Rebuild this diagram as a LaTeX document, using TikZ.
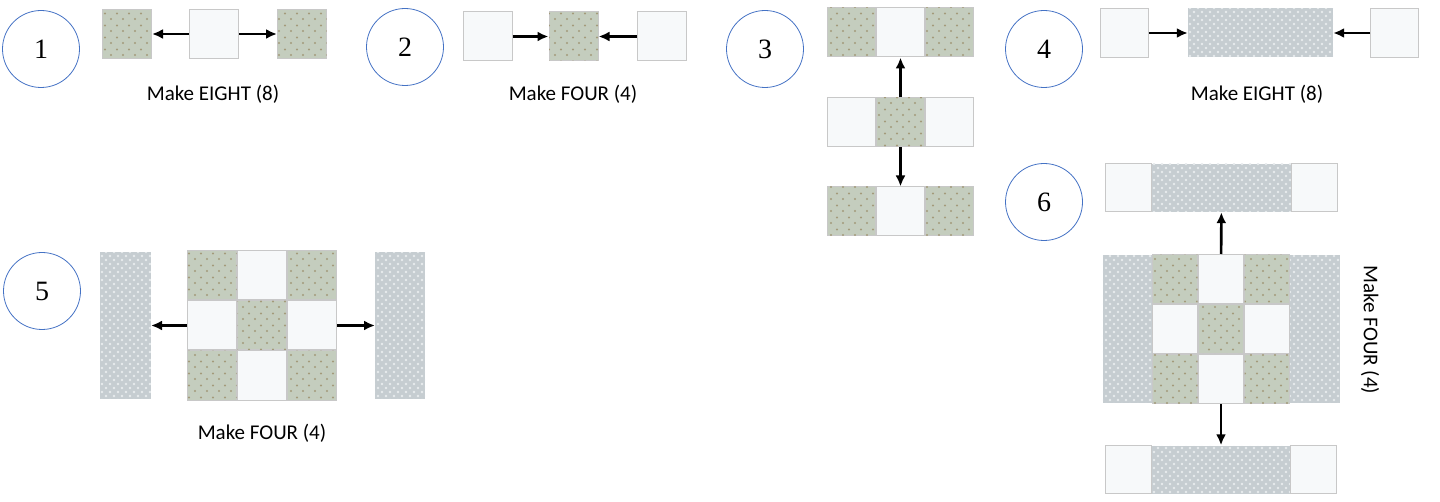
\documentclass[tikz,border=0pt]{standalone}
\usepackage{fontspec}
\setmainfont{Liberation Serif}
\newfontfamily\numfont{Liberation Serif}
\newfontfamily\labelfont{Carlito}
\usetikzlibrary{positioning, arrows.meta, patterns}

\definecolor{fabgreen}{HTML}{C4CDBE}
\definecolor{fabgray}{HTML}{C6CDD1}
\definecolor{fabwhite}{HTML}{F7F9FA}
\definecolor{seam}{HTML}{C8C8C8}
\definecolor{ringblue}{HTML}{4472C4}
\definecolor{speck}{HTML}{A39A7A}

% a sparse print for the fabric patches
\pgfdeclarepatternformonly{speckle}{\pgfqpoint{-2pt}{-2pt}}{\pgfqpoint{14pt}{14pt}}{\pgfqpoint{12pt}{12pt}}{
  \pgfpathcircle{\pgfqpoint{3pt}{3pt}}{1.1pt}
  \pgfpathcircle{\pgfqpoint{9pt}{8.5pt}}{1.1pt}
  \pgfusepath{fill}}
\pgfdeclarepatternformonly{mottle}{\pgfqpoint{-2pt}{-2pt}}{\pgfqpoint{10pt}{10pt}}{\pgfqpoint{8pt}{8pt}}{
  \pgfpathcircle{\pgfqpoint{2pt}{2pt}}{1.3pt}
  \pgfpathcircle{\pgfqpoint{6pt}{6pt}}{1.3pt}
  \pgfusepath{fill}}

\begin{document}
\begin{tikzpicture}[x=1pt, y=-1pt, node distance=0pt, inner sep=0pt,
    gpatch/.style={draw=seam, line width=1pt, fill=fabgreen, postaction={pattern=speckle, pattern color=speck},
      minimum width=49pt, minimum height=49pt},
    wpatch/.style={draw=seam, line width=1pt, fill=fabwhite, minimum width=49pt, minimum height=49pt},
    strip/.style={fill=fabgray, postaction={pattern=mottle, pattern color=white!60!fabgray}, minimum height=49pt},
    num/.style={circle, draw=ringblue, line width=0.8pt, minimum size=77pt, font=\numfont\fontsize{28}{32}\selectfont},
    caption/.style={font=\labelfont\fontsize{21}{25}\selectfont},
    arr/.style={-{Latex[length=11pt,width=10pt]}, line width=2.6pt}]
  \useasboundingbox (0,0) rectangle (1440,502);

  % step 1
  \node[num] (n1) at (41,49) {1};
  \node[wpatch] (p1w) at (214,34) {};
  \node[gpatch, left=37pt of p1w] (p1l) {};
  \node[gpatch, right=38pt of p1w] (p1r) {};
  \draw[arr] (p1w) -- (p1l);
  \draw[arr] (p1w) -- (p1r);
  \node[caption] (t1) at (213,94) {Make EIGHT (8)};

  % step 2
  \node[num] (n2) at (405,47) {2};
  \node[gpatch] (p2g) at (573.5,36.5) {};
  \node[wpatch, left=36pt of p2g] (p2l) {};
  \node[wpatch, right=38pt of p2g] (p2r) {};
  \draw[arr] (p2l) -- (p2g);
  \draw[arr] (p2r) -- (p2g);
  \node[caption] (t2) at (573,94) {Make FOUR (4)};

  % step 3
  \node[num] (n3) at (765,49) {3};
  \node[wpatch, minimum width=48pt] (r3a) at (900.5,32.5) {};
  \node[gpatch, minimum width=48pt, left=0pt of r3a] (r3al) {};
  \node[gpatch, minimum width=48pt, right=0pt of r3a] (r3ar) {};
  \node[gpatch, minimum width=48pt] (r3b) at (900.5,122.5) {};
  \node[wpatch, minimum width=48pt, left=0pt of r3b] (r3bl) {};
  \node[wpatch, minimum width=48pt, right=0pt of r3b] (r3br) {};
  \node[wpatch, minimum width=48pt] (r3c) at (900.5,211.5) {};
  \node[gpatch, minimum width=48pt, left=0pt of r3c] (r3cl) {};
  \node[gpatch, minimum width=48pt, right=0pt of r3c] (r3cr) {};
  \draw[arr] (r3b) -- (r3a);
  \draw[arr] (r3b) -- (r3c);

  % step 4
  \node[num] (n4) at (1044,49) {4};
  \node[strip, minimum width=145pt] (s4) at (1260.5,33) {};
  \node[wpatch, minimum width=48pt, left=39pt of s4] (p4l) {};
  \node[wpatch, minimum width=48pt, right=37pt of s4] (p4r) {};
  \draw[arr] (p4l) -- (s4);
  \draw[arr] (p4r) -- (s4);
  \node[caption] (t4) at (1257,94) {Make EIGHT (8)};

  % step 5
  \node[num] (n5) at (42,291) {5};
  \node[gpatch] (q5) at (262,325.5) {};
  \node[wpatch, above=0pt of q5] (q5n) {};
  \node[wpatch, below=0pt of q5] (q5s) {};
  \node[wpatch, left=0pt of q5] (q5w) {};
  \node[wpatch, right=0pt of q5] (q5e) {};
  \node[gpatch, left=0pt of q5n] (q5nw) {};
  \node[gpatch, right=0pt of q5n] (q5ne) {};
  \node[gpatch, left=0pt of q5s] (q5sw) {};
  \node[gpatch, right=0pt of q5s] (q5se) {};
  \node[strip, minimum width=51pt, minimum height=146pt, left=36pt of q5w] (s5l) {};
  \node[strip, minimum width=50pt, minimum height=146pt, right=38pt of q5e] (s5r) {};
  \draw[arr] (q5w) -- (s5l);
  \draw[arr] (q5e) -- (s5r);
  \node[caption] (t5) at (262,433) {Make FOUR (4)};

  % step 6
  \node[num] (n6) at (1044,202) {6};
  \node[strip, minimum width=139pt, minimum height=48pt] (s6a) at (1221.5,188) {};
  \node[wpatch, minimum width=46pt, minimum height=48pt, left=0pt of s6a] (s6al) {};
  \node[wpatch, minimum width=46pt, minimum height=48pt, right=0pt of s6a] (s6ar) {};
  \node[gpatch, minimum width=45pt] (q6) at (1221,329) {};
  \node[wpatch, minimum width=45pt, above=0pt of q6] (q6n) {};
  \node[wpatch, minimum width=45pt, below=0pt of q6] (q6s) {};
  \node[wpatch, minimum width=45pt, left=0pt of q6] (q6w) {};
  \node[wpatch, minimum width=45pt, right=0pt of q6] (q6e) {};
  \node[gpatch, minimum width=45pt, left=0pt of q6n] (q6nw) {};
  \node[gpatch, minimum width=45pt, right=0pt of q6n] (q6ne) {};
  \node[gpatch, minimum width=45pt, left=0pt of q6s] (q6sw) {};
  \node[gpatch, minimum width=45pt, right=0pt of q6s] (q6se) {};
  \node[strip, minimum width=49pt, minimum height=147pt, left=0pt of q6w] (s6l) {};
  \node[strip, minimum width=50pt, minimum height=147pt, right=0pt of q6e] (s6r) {};
  \node[strip, minimum width=138pt, minimum height=48pt] (s6c) at (1221,469.5) {};
  \node[wpatch, minimum width=46pt, minimum height=48pt, left=0pt of s6c] (s6cl) {};
  \node[wpatch, minimum width=46pt, minimum height=48pt, right=0pt of s6c] (s6cr) {};
  \draw[arr] (q6n) -- (s6a);
  \draw[arr] (q6s) -- (s6c);
  \node[caption, rotate=-90] (t6) at (1370,330) {Make FOUR (4)};
\end{tikzpicture}
\end{document}
